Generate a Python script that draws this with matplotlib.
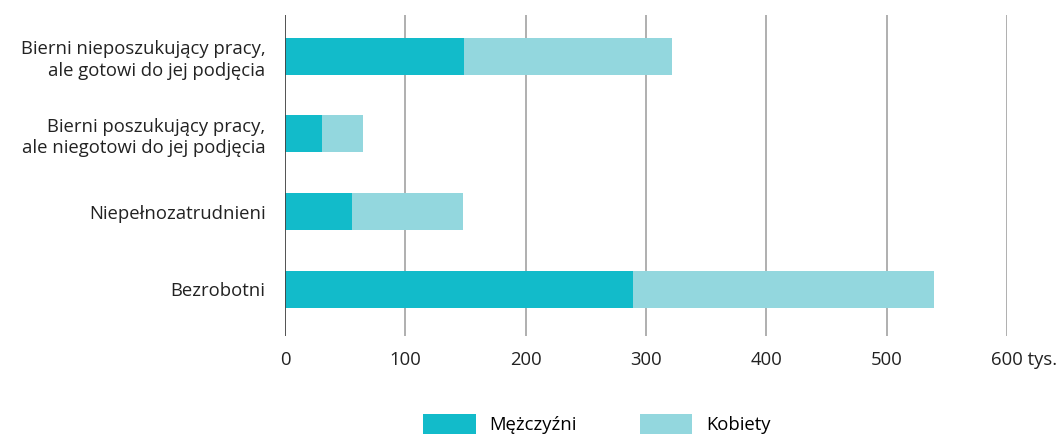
import numpy as np
import matplotlib.pyplot as plt
from matplotlib.transforms import ScaledTranslation

categories = ["Bezrobotni", "Niepełnozatrudnieni",
              "Bierni poszukujący pracy,\nale niegotowi do jej podjęcia",
              "Bierni nieposzukujący pracy,\nale gotowi do jej podjęcia"]
men = [289, 56, 31, 149]
women = [250, 92, 34, 173]
xticks = [0, 100, 200, 300, 400, 500, 600]
xticklabels = ["0", "100", "200", "300", "400", "500", "600 tys."]

c_men = "#12bbca"
c_women = "#93d7de"

plt.rcParams['font.family'] = ['Open Sans', 'DejaVu Sans']
plt.rcParams['font.size'] = 13.3

fig = plt.figure(figsize=(10.62, 4.43), dpi=100)
ax = fig.add_axes([285 / 1062, 1 - 336 / 443, (1007 - 285) / 1062, (336 - 15) / 443])

y = np.arange(len(categories))
ax.barh(y, men, height=0.475, color=c_men, label="Mężczyźni", zorder=3)
ax.barh(y, women, left=men, height=0.475, color=c_women, label="Kobiety", zorder=3)

ax.set_xlim(0, 600)
ax.set_ylim(-0.6, 3.53)
ax.set_xticks(xticks)
ax.set_xticklabels(xticklabels, color="#222222")
ax.set_yticks(y)
ax.set_yticklabels(categories, color="#222222", linespacing=1.25)
ax.tick_params(length=0)
ax.tick_params(axis='x', pad=11)
ax.tick_params(axis='y', pad=14)

# last label: keep "600" centred on its gridline
last = ax.get_xticklabels()[-1]
last.set_ha('left')
last.set_transform(last.get_transform() + ScaledTranslation(-16 / 100, 0, fig.dpi_scale_trans))

for s in ax.spines.values():
    s.set_visible(False)
for xv in xticks[1:]:
    ax.axvline(xv, color="#9a9a9a", lw=1.1, zorder=1)
ax.axvline(0, color="#444444", lw=1.3, zorder=4)

fig.legend(loc='upper center', bbox_to_anchor=(597 / 1062, 1 - 397 / 443), ncol=2, frameon=False,
           handlelength=2.85, handleheight=1.35, handletextpad=0.75, columnspacing=3.4)

fig.savefig("out.png", dpi=100)
